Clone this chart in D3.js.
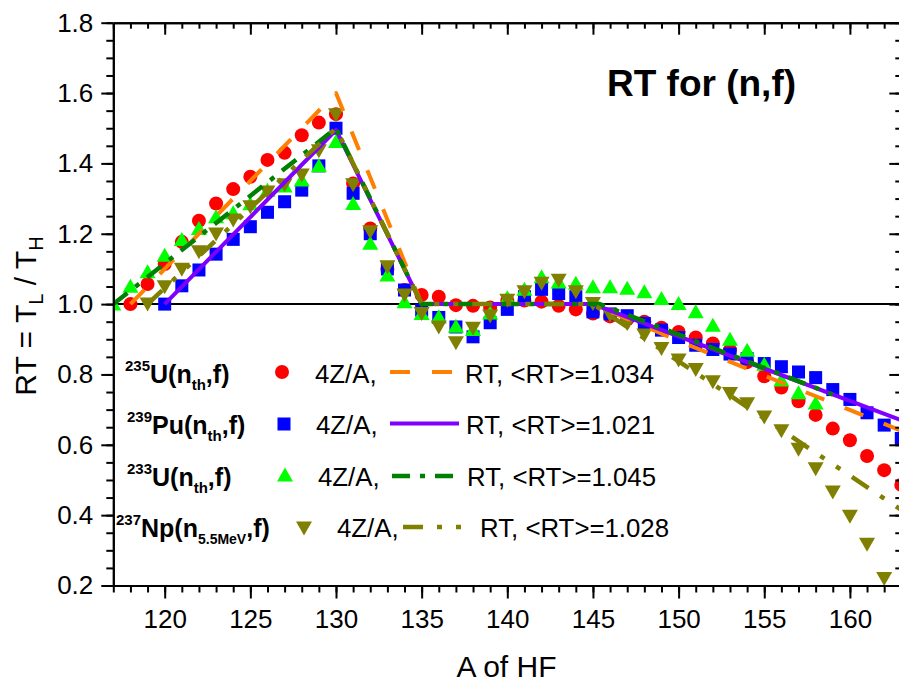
<!DOCTYPE html>
<html>
<head>
<meta charset="utf-8">
<script src="https://cdn.jsdelivr.net/npm/d3@7"></script>
<style>
  html, body { margin: 0; padding: 0; background: #fff; }
  svg { display: block; }
  text { font-family: "Liberation Sans", Arial, Helvetica, sans-serif; fill: #000; }
</style>
</head>
<body>
<svg id="chart" width="899" height="682"></svg>
<script>
// Heavy-fragment mass numbers and the 4Z/A ratio for each fissioning system
const u235Mass  = [118,119,120,121,122,123,124,125,126,127,128,129,130,131,132,133,134,135,136,137,138,139,140,141,142,143,144,145,146,147,148,149,150,151,152,153,154,155,156,157,158,159,160,161,162,163];
const u235Ratio = [1.000,1.057,1.114,1.177,1.237,1.286,1.327,1.362,1.410,1.430,1.480,1.516,1.540,1.343,1.215,1.100,1.040,1.026,1.021,0.997,0.995,0.990,1.010,1.010,1.007,0.995,0.985,0.973,0.965,0.957,0.950,0.933,0.921,0.905,0.888,0.869,0.835,0.795,0.763,0.724,0.685,0.646,0.613,0.568,0.528,0.486];

const pu239Mass  = [120,121,122,123,124,125,126,127,128,129,130,131,132,133,134,135,136,137,138,139,140,141,142,143,144,145,146,147,148,149,150,151,152,153,154,155,156,157,158,159,160,161,162,163];
const pu239Ratio = [1.000,1.052,1.097,1.142,1.184,1.220,1.261,1.291,1.324,1.393,1.500,1.315,1.200,1.100,1.040,0.983,0.962,0.935,0.907,0.947,0.985,1.021,1.042,1.030,1.021,0.978,0.972,0.967,0.945,0.926,0.905,0.883,0.871,0.858,0.845,0.831,0.822,0.807,0.791,0.757,0.729,0.691,0.656,0.618];

const u233Mass  = [117,118,119,120,121,122,123,124,125,126,127,128,129,130,131,132,133,134,135,136,137,138,139,140,141,142,143,144,145,146,147,148,149,150,151,152,153,154,155,156,157,158];
const u233Ratio = [1.000,1.051,1.092,1.139,1.184,1.215,1.248,1.260,1.285,1.324,1.336,1.353,1.393,1.462,1.286,1.173,1.083,1.007,0.973,0.964,0.937,0.928,0.975,1.018,1.042,1.078,1.063,1.059,1.049,1.049,1.045,1.035,1.016,1.002,0.978,0.940,0.900,0.869,0.829,0.784,0.748,0.719];

const np237Mass  = [119,120,121,122,123,124,125,126,127,128,129,130,131,132,133,134,135,136,137,138,139,140,141,142,143,144,145,146,147,148,149,150,151,152,153,154,155,156,157,158,159,160,161,162];
const np237Ratio = [1.000,1.049,1.099,1.149,1.199,1.239,1.277,1.319,1.339,1.367,1.436,1.538,1.339,1.206,1.106,1.026,0.973,0.935,0.890,0.931,0.966,1.011,1.035,1.059,1.068,1.035,1.002,0.969,0.945,0.912,0.874,0.841,0.814,0.779,0.746,0.717,0.679,0.640,0.587,0.532,0.466,0.397,0.317,0.220];

// RT model curves (knot points joined by straight segments)
const u235RTMass  = [118,130,135,145,150,163];
const u235RT      = [1.000,1.600,1.000,1.000,0.895,0.640];
const pu239RTMass = [120,130,135,145,163];
const pu239RT     = [1.000,1.495,1.000,1.000,0.670];
const u233RTMass  = [117,130,135,145.4,159];
const u233RT      = [1.000,1.500,1.000,1.000,0.743];
const np237RTMass = [119,130,135,145,163];
const np237RT     = [1.000,1.500,1.000,1.000,0.415];

// Axis ticks
const xMajorTicks = [120,125,130,135,140,145,150,155,160];
const yMajorTicks = [0.2,0.4,0.6,0.8,1.0,1.2,1.4,1.6,1.8];

// Legend entries
const legendRT = ["1.034","1.021","1.045","1.028"];

(function () {
const svg = d3.select("#chart");
const W = 899, H = 682;
svg.append("rect").attr("width", W).attr("height", H).attr("fill", "#fff");

const mLeft = 113.3, mRight = 901.3, mTop = 22.7, mBottom = 585.5;
const x = d3.scaleLinear().domain([117, 163]).range([mLeft, mRight]);
const y = d3.scaleLinear().domain([0.2, 1.8]).range([mBottom, mTop]);

svg.append("clipPath").attr("id", "clip")
  .append("rect").attr("x", mLeft).attr("y", mTop).attr("width", mRight - mLeft).attr("height", mBottom - mTop);

const plot = svg.append("g");

// reference line RT = 1
plot.append("line")
  .attr("x1", x(117)).attr("x2", x(163))
  .attr("y1", y(1)).attr("y2", y(1))
  .attr("stroke", "#000").attr("stroke-width", 2);

// marker shapes
function drawMarker(g, type, color) {
  if (type === "circle") {
    g.append("circle").attr("r", 7).attr("fill", color);
  } else if (type === "square") {
    g.append("rect").attr("x", -6.5).attr("y", -6.5).attr("width", 13).attr("height", 13).attr("fill", color);
  } else if (type === "up") {
    g.append("path").attr("d", "M0,-7.5 L8,6.5 L-8,6.5 Z").attr("fill", color);
  } else if (type === "down") {
    g.append("path").attr("d", "M0,7.5 L8,-6.5 L-8,-6.5 Z").attr("fill", color);
  }
}

const scatterSeries = [
  { mass: u235Mass,  ratio: u235Ratio,  type: "circle", color: "#ff0000" },
  { mass: pu239Mass, ratio: pu239Ratio, type: "square", color: "#0000ff" },
  { mass: u233Mass,  ratio: u233Ratio,  type: "up",     color: "#00ff00" },
  { mass: np237Mass, ratio: np237Ratio, type: "down",   color: "#808000" }
];

const lineSeries = [
  { mass: u235RTMass,  rt: u235RT,  color: "#ff8000", width: 4,   dash: "20,22" },
  { mass: pu239RTMass, rt: pu239RT, color: "#8000ff", width: 4,   dash: null },
  { mass: u233RTMass,  rt: u233RT,  color: "#008000", width: 4.5, dash: "18,10,5,10" },
  { mass: np237RTMass, rt: np237RT, color: "#808000", width: 4.5, dash: "20,14,5,14,5,14" }
];

const dataLayer = plot.append("g").attr("clip-path", "url(#clip)");

scatterSeries.forEach(s => {
  const g = dataLayer.append("g");
  s.mass.forEach((m, i) => {
    const mg = g.append("g").attr("transform", `translate(${x(m)},${y(s.ratio[i])})`);
    drawMarker(mg, s.type, s.color);
  });
});

const lineGen = d3.line().x(d => x(d[0])).y(d => y(d[1]));
lineSeries.forEach(s => {
  const pts = s.mass.map((m, i) => [m, s.rt[i]]);
  dataLayer.append("path")
    .attr("d", lineGen(pts))
    .attr("fill", "none")
    .attr("stroke", s.color)
    .attr("stroke-width", s.width)
    .attr("stroke-dasharray", s.dash)
    .attr("stroke-linejoin", "round");
});

// axes
const xMinor = d3.range(117, 164);
const yMinor = d3.range(0.2, 1.8001, 0.05).map(v => +v.toFixed(2));

function styleAxis(g) {
  g.selectAll("path.domain").attr("stroke", "#000").attr("stroke-width", 2);
  g.selectAll(".tick line").attr("stroke", "#000").attr("stroke-width", 2);
}

// minor ticks
svg.append("g").attr("transform", `translate(0,${mBottom})`)
  .call(d3.axisBottom(x).tickValues(xMinor).tickSize(7).tickFormat("").tickSizeOuter(0))
  .call(styleAxis);
svg.append("g").attr("transform", `translate(0,${mTop})`)
  .call(d3.axisTop(x).tickValues(xMinor).tickSize(-6).tickFormat("").tickSizeOuter(0))
  .call(styleAxis);
svg.append("g").attr("transform", `translate(${mLeft},0)`)
  .call(d3.axisLeft(y).tickValues(yMinor).tickSize(7).tickFormat("").tickSizeOuter(0))
  .call(styleAxis);
svg.append("g").attr("transform", `translate(${mRight},0)`)
  .call(d3.axisRight(y).tickValues(yMinor).tickSize(-6).tickFormat("").tickSizeOuter(0))
  .call(styleAxis);

// major ticks and labels
const xAxisG = svg.append("g").attr("transform", `translate(0,${mBottom})`)
  .call(d3.axisBottom(x).tickValues(xMajorTicks).tickSize(13).tickPadding(11).tickFormat(d3.format("d")).tickSizeOuter(0))
  .call(styleAxis);
xAxisG.selectAll(".tick text").attr("font-size", 26).attr("fill", "#000")
  .attr("font-family", "'Liberation Sans', Arial, sans-serif");

svg.append("g").attr("transform", `translate(0,${mTop})`)
  .call(d3.axisTop(x).tickValues(xMajorTicks).tickSize(-12).tickFormat("").tickSizeOuter(0))
  .call(styleAxis);

const yAxisG = svg.append("g").attr("transform", `translate(${mLeft},0)`)
  .call(d3.axisLeft(y).tickValues(yMajorTicks).tickSize(12).tickPadding(8).tickFormat(d3.format(".1f")).tickSizeOuter(0))
  .call(styleAxis);
yAxisG.selectAll(".tick text").attr("font-size", 26).attr("fill", "#000")
  .attr("font-family", "'Liberation Sans', Arial, sans-serif");

svg.append("g").attr("transform", `translate(${mRight},0)`)
  .call(d3.axisRight(y).tickValues(yMajorTicks).tickSize(-12).tickFormat("").tickSizeOuter(0))
  .call(styleAxis);

// axis titles
svg.append("text")
  .attr("x", 506.5).attr("y", 677)
  .attr("text-anchor", "middle")
  .attr("font-size", 30)
  .text("A of HF");

const yTitle = svg.append("text")
  .attr("transform", "translate(36,316) rotate(-90)")
  .attr("text-anchor", "middle")
  .attr("font-size", 30);
yTitle.append("tspan").text("RT = T");
yTitle.append("tspan").attr("font-size", 20).attr("dy", 7).text("L");
yTitle.append("tspan").attr("dy", -7).text(" / T");
yTitle.append("tspan").attr("font-size", 20).attr("dy", 7).text("H");

// chart title
svg.append("text")
  .attr("x", 607).attr("y", 96)
  .attr("font-size", 37)
  .attr("font-weight", "bold")
  .text("RT for (n,f)");

// legend
const legendRows = [
  { sup: "235", el: "U", sub: "th",     lx: 125, ly: 383, mx: 282, my: 372, type: "circle", color: "#ff0000", tx: 315, l1: 390, l2: 452, ry: 372, rx: 465 },
  { sup: "239", el: "Pu", sub: "th",    lx: 127, ly: 434, mx: 284, my: 424, type: "square", color: "#0000ff", tx: 316, l1: 390, l2: 459, ry: 423.5, rx: 466 },
  { sup: "233", el: "U", sub: "th",     lx: 127, ly: 486, mx: 285, my: 475, type: "up",     color: "#00ff00", tx: 318, l1: 392, l2: 460, ry: 476, rx: 467 },
  { sup: "237", el: "Np", sub: "5.5MeV", lx: 116, ly: 537, mx: 304, my: 528, type: "down",  color: "#808000", tx: 337, l1: 403, l2: 472, ry: 527, rx: 480 }
];

const legend = svg.append("g");
legendRows.forEach((r, i) => {
  const t = legend.append("text")
    .attr("x", r.lx).attr("y", r.ly)
    .attr("font-weight", "bold")
    .attr("font-size", 25);
  t.append("tspan").attr("font-size", 15).attr("dy", -12).text(r.sup);
  t.append("tspan").attr("dy", 12).text(r.el + "(n");
  t.append("tspan").attr("font-size", r.sub.length > 2 ? 14 : 15).attr("dy", 7).text(r.sub);
  t.append("tspan").attr("dy", -7).text(",f)");

  const mg = legend.append("g").attr("transform", `translate(${r.mx},${r.my})`);
  drawMarker(mg, r.type, r.color);

  legend.append("text")
    .attr("x", r.tx).attr("y", r.ly)
    .attr("font-size", 25.8)
    .text("4Z/A,");

  const ls = lineSeries[i];
  legend.append("line")
    .attr("x1", r.l1).attr("x2", r.l2)
    .attr("y1", r.ry).attr("y2", r.ry)
    .attr("stroke", ls.color)
    .attr("stroke-width", ls.width)
    .attr("stroke-dasharray", ls.dash);

  legend.append("text")
    .attr("x", r.rx).attr("y", r.ly)
    .attr("font-size", 25.8)
    .text("RT, <RT>=" + legendRT[i]);
});
})();
</script>
</body>
</html>
